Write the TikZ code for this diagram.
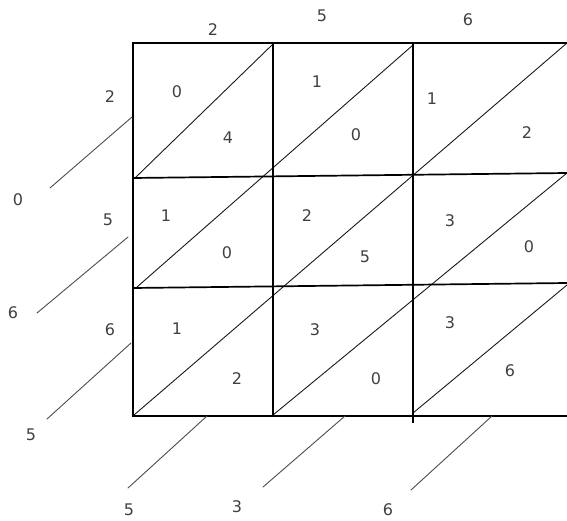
\documentclass[tikz,border=0pt]{standalone}
\usepackage{fontspec}
\setmainfont{DejaVu Sans}
\usepackage{tikz}
\usepackage{xcolor}

\begin{document}
\begin{tikzpicture}[x=1pt,y=-1pt,font=\fontsize{16}{18}\selectfont,line cap=round,
  digit/.style={text=black!75,inner sep=0pt},
  gridline/.style={line width=1.7pt,line cap=rect},
  diag/.style={line width=0.9pt,black!90},
  carry/.style={line width=0.9pt,black!70}]
\useasboundingbox (0,0) rectangle (567,521);
\begin{scope}
\clip (133,43) rectangle (567,416);
\draw[diag] (135,178) -- (272,45);
\draw[diag] (137,287) -- (413,45);
\draw[diag] (134,415) -- (567,43);
\draw[diag] (273,415) -- (567,173);
\draw[diag] (413,413) -- (567,285);
\end{scope}
\draw[gridline,line width=2.2pt] (567,43) -- (133,43) -- (133,416);
\draw[gridline] (133,178) -- (567,173);
\draw[gridline] (133,288) -- (567,283);
\draw[gridline] (133,416) -- (567,416);
\draw[gridline] (273,43) -- (273,416);
\draw[gridline] (413,43) -- (413,422);
\draw[carry] (132,117) -- (50,188);
\draw[carry] (128,237) -- (37,313);
\draw[carry] (131,343) -- (47,419);
\draw[carry] (207,416) -- (128,488);
\draw[carry] (345,416) -- (263,487);
\draw[carry] (492,416) -- (411,490);
\node[digit] (top2) at (213,30) {2};
\node[digit] (top5) at (322,16) {5};
\node[digit] (top6) at (468,20) {6};
\node[digit] (left2) at (110,97) {2};
\node[digit] (left5) at (108,220) {5};
\node[digit] (left6) at (110,330) {6};
\node[digit] (ans0) at (18,200) {0};
\node[digit] (ans6) at (13,313) {6};
\node[digit] (ans5) at (31,435) {5};
\node[digit] (ansb5) at (129,510) {5};
\node[digit] (ansb3) at (237,507) {3};
\node[digit] (ansb6) at (388,510) {6};
\node[digit] (aa-hi) at (177,92) {0};
\node[digit] (aa-lo) at (228,138) {4};
\node[digit] (ab-hi) at (317,82) {1};
\node[digit] (ab-lo) at (356,135) {0};
\node[digit] (ac-hi) at (432,99) {1};
\node[digit] (ac-lo) at (527,133) {2};
\node[digit] (ba-hi) at (166,216) {1};
\node[digit] (ba-lo) at (227,253) {0};
\node[digit] (bb-hi) at (307,216) {2};
\node[digit] (bb-lo) at (365,257) {5};
\node[digit] (bc-hi) at (450,221) {3};
\node[digit] (bc-lo) at (529,247) {0};
\node[digit] (ca-hi) at (177,329) {1};
\node[digit] (ca-lo) at (237,379) {2};
\node[digit] (cb-hi) at (315,330) {3};
\node[digit] (cb-lo) at (376,379) {0};
\node[digit] (cc-hi) at (450,323) {3};
\node[digit] (cc-lo) at (510,371) {6};
\end{tikzpicture}
\end{document}
